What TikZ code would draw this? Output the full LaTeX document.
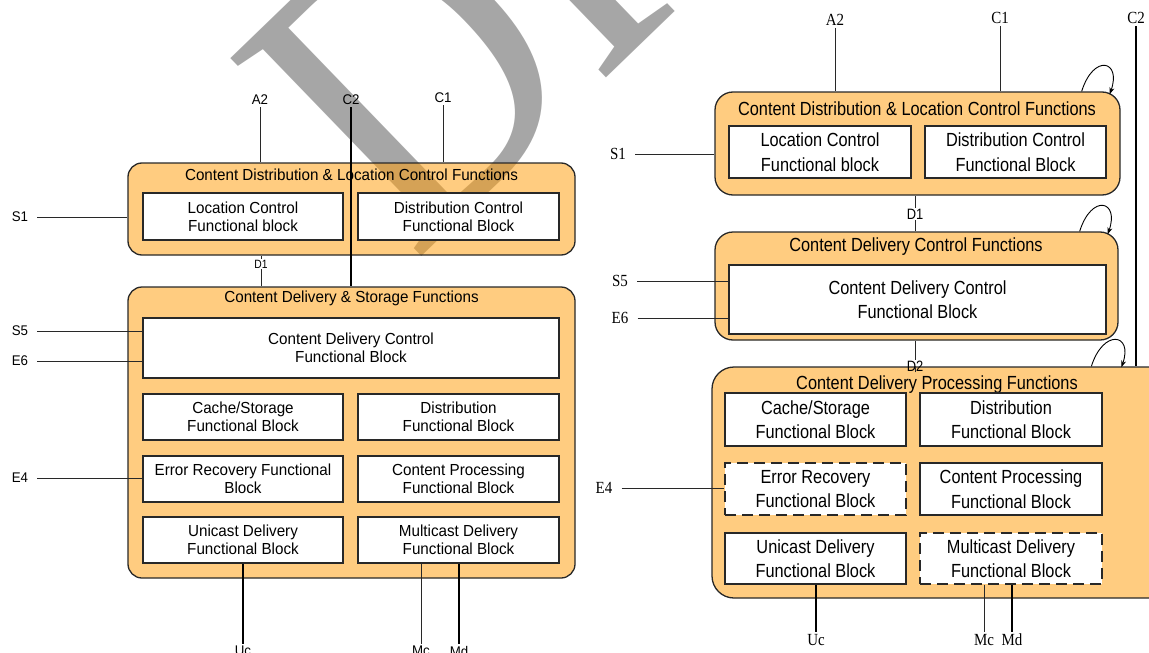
\documentclass[tikz,border=0pt]{standalone}
\usepackage{fontspec}
\setmainfont{Liberation Sans}
\newfontfamily\lfont[FakeStretch=0.95]{Liberation Sans}
\newfontfamily\rfont[FakeStretch=0.86]{Liberation Sans}
\newfontfamily\rlfont[FakeStretch=0.88]{Liberation Serif}
\newfontfamily\wmfont[FakeStretch=0.84]{Liberation Serif}
\usetikzlibrary{arrows.meta,calc}
\definecolor{boxorange}{RGB}{255,159,15}
\definecolor{wmgray}{RGB}{166,166,166}
\definecolor{edge}{RGB}{40,40,40}
\begin{document}
\begin{tikzpicture}[x=1pt,y=-1pt,
    func/.style={draw=edge,line width=1.3pt,fill=boxorange,fill opacity=0.53,text opacity=1,rounded corners=#1,inner sep=0pt},
    func/.default=14pt,
    fblock/.style={draw=edge,line width=1.8pt,fill=white,align=center,inner sep=0pt},
    dblock/.style={fblock,dash pattern=on 11pt off 6pt},
    ltext/.style={font={\lfont\fontsize{16}{18}\selectfont}},
    rtext/.style={font={\rfont\fontsize{19}{24.5}\selectfont}},
    llbl/.style={font={\lfont\fontsize{14}{14}\selectfont},inner sep=2pt},
    rlbl/.style={font={\rlfont\fontsize{17}{17}\selectfont},inner sep=2pt},
    dlbl/.style={inner sep=1pt,font={\rfont\fontsize{#1}{#1}\selectfont}},
    wire/.style={line width=1pt,draw=edge},
    tap/.style={wire,shorten <=7pt},
    bus/.style={line width=2.8pt,draw=black},
    selfloop/.style={line width=0.9pt,-{Stealth[length=7pt,width=5pt]}}]
  \useasboundingbox (0,0) rectangle (1149,653);
  % watermark behind everything
  \begin{scope}
    \clip (0,0) rectangle (1149,653);
    \node[font={\wmfont\fontsize{420}{420}\selectfont},text=wmgray,rotate=44,anchor=base west,inner sep=0pt] (wm) at (414,264) {DR};
  \end{scope}

  % left: boxes
  \node[func,minimum width=447pt,minimum height=92pt] (cdlc) at (351.5,209) {};
  \node[ltext] (cdlc-t) at (351.5,175) {Content Distribution \& Location Control Functions};
  \node[fblock,ltext,minimum width=200pt,minimum height=47pt] (lc) at (243,216.5) {Location Control\\Functional block};
  \node[fblock,ltext,minimum width=201pt,minimum height=47pt] (dc) at (458.5,216.5) {Distribution Control\\Functional Block};
  \node[func,minimum width=447pt,minimum height=291pt] (cds) at (351.5,432.5) {};
  \node[ltext] (cds-t) at (351.5,298) {Content Delivery \& Storage Functions};
  \node[fblock,ltext,minimum width=416pt,minimum height=60pt] (cdc) at (351,348) {Content Delivery Control\\Functional Block};
  \node[fblock,ltext,minimum width=200pt,minimum height=46pt] (cs) at (243,417) {Cache/Storage\\Functional Block};
  \node[fblock,ltext,minimum width=201pt,minimum height=46pt] (dist) at (458.5,417) {Distribution\\Functional Block};
  \node[fblock,ltext,minimum width=200pt,minimum height=46pt] (er) at (243,479) {Error Recovery Functional\\Block};
  \node[fblock,ltext,minimum width=201pt,minimum height=46pt] (cp) at (458.5,479) {Content Processing\\Functional Block};
  \node[fblock,ltext,minimum width=200pt,minimum height=46pt] (uni) at (243,540) {Unicast Delivery\\Functional Block};
  \node[fblock,ltext,minimum width=201pt,minimum height=46pt] (mul) at (458.5,540) {Multicast Delivery\\Functional Block};

  % left: reference points
  \node[llbl] (a2) at (260,100) {A2};
  \node[llbl] (c2) at (351,100) {C2};
  \node[llbl] (c1) at (443,98) {C1};
  \node[llbl] (s1) at (20,217) {S1};
  \node[dlbl=12] (d1) at (261,264) {D1};
  \node[llbl] (s5) at (20,331) {S5};
  \node[llbl] (e6) at (20,361) {E6};
  \node[llbl] (e4) at (20,478) {E4};
  \node[llbl] (uc) at (243,651) {Uc};
  \node[llbl] (mc) at (421,651) {Mc};
  \node[llbl] (md) at (459,651) {Md};
  \draw[wire] (a2) -- (a2 |- cdlc.north);
  \draw[wire] (c1) -- (c1 |- cdlc.north);
  \draw[bus] (c2) -- (c2 |- cds.north);
  \draw[tap] (s1) -- (s1 -| cdlc.west);
  \draw[wire] (d1) -- (d1 |- cdlc.south);
  \draw[wire] (d1) -- (d1 |- cds.north);
  \draw[tap] (s5) -- (s5 -| cdc.west);
  \draw[tap] (e6) -- (e6 -| cdc.west);
  \draw[tap] (e4) -- (e4 -| er.west);
  \draw[bus] (uc |- uni.south) -- (uc);
  \draw[wire] (mc |- mul.south) -- (mc);
  \draw[bus] (md |- mul.south) -- (md);

  % right: boxes
  \node[func=18pt,minimum width=405pt,minimum height=103pt] (rt) at (917.5,143.5) {};
  \node[rtext] (rt-t) at (917,109) {Content Distribution \& Location Control Functions};
  \node[fblock,rtext,minimum width=182pt,minimum height=52pt] (rlc) at (820,152) {Location Control\\Functional block};
  \node[fblock,rtext,minimum width=181pt,minimum height=52pt] (rdc) at (1015.5,152) {Distribution Control\\Functional Block};
  \node[func=18pt,minimum width=403pt,minimum height=108pt] (rm) at (916.5,286) {};
  \node[rtext] (rm-t) at (916,247) {Content Delivery Control Functions};
  \node[fblock,rtext,minimum width=377pt,minimum height=69pt] (rcdc) at (917.5,299.5) {Content Delivery Control\\Functional Block};
  \node[func=22pt,minimum width=468pt,minimum height=231pt] (rb) at (946,482.5) {};
  \node[rtext] (rb-t) at (937,385) {Content Delivery Processing Functions};
  \node[fblock,rtext,minimum width=181pt,minimum height=53pt] (rcs) at (815.5,419.5) {Cache/Storage\\Functional Block};
  \node[fblock,rtext,minimum width=182pt,minimum height=53pt] (rdist) at (1011,419.5) {Distribution\\Functional Block};
  \node[dblock,rtext,minimum width=181pt,minimum height=52pt] (rer) at (815.5,489) {Error Recovery\\Functional Block};
  \node[fblock,rtext,minimum width=182pt,minimum height=52pt] (rcp) at (1011,489) {Content Processing\\Functional Block};
  \node[fblock,rtext,minimum width=181pt,minimum height=51pt] (runi) at (815.5,558.5) {Unicast Delivery\\Functional Block};
  \node[dblock,rtext,minimum width=182pt,minimum height=51pt] (rmul) at (1011,558.5) {Multicast Delivery\\Functional Block};

  % right: reference points
  \node[rlbl] (ra2) at (835,20) {A2};
  \node[rlbl] (rc1) at (1000,18) {C1};
  \node[rlbl] (rc2) at (1136,18) {C2};
  \node[rlbl] (rs1) at (618,154) {S1};
  \node[rlbl] (rs5) at (620,281) {S5};
  \node[rlbl] (re6) at (620,318) {E6};
  \node[rlbl] (re4) at (604,488) {E4};
  \node[dlbl=15] (rd1) at (915,214) {D1};
  \node[dlbl=15] (rd2) at (915,366) {D2};
  \node[rlbl] (ruc) at (816,640) {Uc};
  \node[rlbl] (rmc) at (984,640) {Mc};
  \node[rlbl] (rmd) at (1012,640) {Md};
  \draw[wire] (ra2) -- (ra2 |- rt.north);
  \draw[wire] (rc1) -- (rc1 |- rt.north);
  \draw[bus] (rc2) -- (rc2 |- rb.north);
  \draw[tap] (rs1) -- (rs1 -| rt.west);
  \draw[tap] (rs5) -- (rs5 -| rcdc.west);
  \draw[tap] (re6) -- (re6 -| rcdc.west);
  \draw[tap] (re4) -- (re4 -| rer.west);
  \draw[wire] (rd1) -- (rd1 |- rt.south);
  \draw[wire] (rd1) -- (rd1 |- rm.north);
  \draw[wire] (rd2) -- (rd2 |- rm.south);
  \draw[wire] (rd2) -- (rd2 |- rb.north);
  \draw[bus] (ruc |- runi.south) -- (ruc);
  \draw[wire] (rmc |- rmul.south) -- (rmc);
  \draw[bus] (rmd |- rmul.south) -- (rmd);
  % self loops
  \draw[selfloop] ($(rt.north east)+(-39,0)$) .. controls +(12,-38) and +(12,-34) .. ($(rt.north east)+(-11,3)$);
  \draw[selfloop] ($(rm.north east)+(-39,0)$) .. controls +(12,-38) and +(12,-34) .. ($(rm.north east)+(-11,3)$);
  \draw[selfloop] ($(rb.north west)+(380,0)$) .. controls +(12,-38) and +(12,-34) .. ($(rb.north west)+(410,1)$);
\end{tikzpicture}
\end{document}
